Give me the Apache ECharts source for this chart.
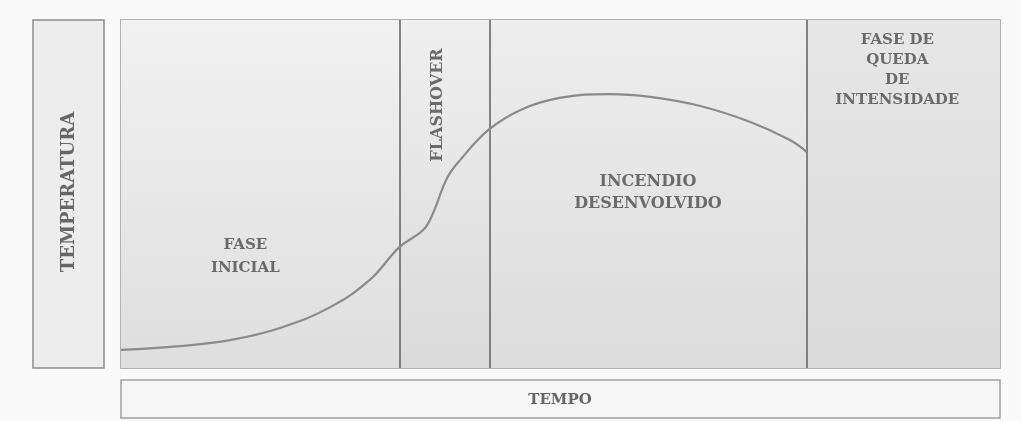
<!DOCTYPE html>
<html>
<head>
<meta charset="utf-8">
<script src="https://cdn.jsdelivr.net/npm/echarts@6/dist/echarts.min.js"></script>
<style>
  html, body { margin: 0; padding: 0; background: #f9f9f9; }
  #chart { width: 1021px; height: 421px; }
</style>
</head>
<body>
<div id="chart"></div>
<script>
// curve: time (0-100) vs temperature (0-100)
const tempoValues = [0, 6.7, 12.4, 18.1, 23.8, 28.3, 31.7, 34.4, 35.5, 37.1, 38.6, 41.8, 45.4, 49.9, 55.6, 60.2, 65.9, 71.6, 76.1, 78.0];
const temperaturaValues = [5.2, 6.3, 8.0, 11.5, 17.5, 25.3, 34.8, 39.7, 44.5, 54.6, 59.8, 68.4, 74.1, 77.6, 78.7, 77.9, 75.3, 70.7, 65.5, 62.1];

// phases
const phaseNames = ["FASE\nINICIAL", "FLASHOVER", "INCENDIO\nDESENVOLVIDO", "FASE DE\nQUEDA\nDE\nINTENSIDADE"];
const phaseBounds = [0, 31.7, 41.9, 78.0, 100];

const yLabel = "TEMPERATURA";
const xLabel = "TEMPO";

const textFont = {
  fontFamily: "DejaVu Serif",
  fontWeight: "bold",
  fontSize: 15,
  color: "#6a6a6a",
};

// note: offset of a rotated label turns with it
const phaseLabels = [
  { position: "inside", offset: [-15, 63], lineHeight: 23 },
  { position: "inside", rotate: 90, offset: [89, -7], fontSize: 16 },
  { position: "inside", offset: [0, -1], lineHeight: 22, fontSize: 16 },
  { position: "insideTop", distance: 10, lineHeight: 20, offset: [-6, 0] },
];

const phaseColors = [
  ["#f1f1f1", "#dedede"],
  ["#efefef", "#dadada"],
  ["#ededed", "#dcdcdc"],
  ["#e6e6e6", "#dadada"],
];

const chart = echarts.init(document.getElementById("chart"));

const areas = phaseNames.map((name, i) => [
  {
    name: name,
    xAxis: phaseBounds[i],
    yAxis: 100,
    itemStyle: {
      color: new echarts.graphic.LinearGradient(0, 0, 0, 1, [
        { offset: 0, color: phaseColors[i][0] },
        { offset: 1, color: phaseColors[i][1] },
      ]),
    },
    label: Object.assign({ show: true }, textFont, phaseLabels[i]),
  },
  { xAxis: phaseBounds[i + 1], yAxis: 0 },
]);

const option = {
  backgroundColor: "#f9f9f9",
  animation: false,
  grid: {
    left: 121,
    right: 21,
    top: 20,
    bottom: 53,
    show: true,
    borderColor: "#9a9a9a",
    borderWidth: 1.5,
    backgroundColor: "transparent",
  },
  xAxis: {
    type: "value",
    min: 0,
    max: 100,
    axisLine: { show: false },
    axisTick: { show: false },
    axisLabel: { show: false },
    splitLine: { show: false },
  },
  yAxis: {
    type: "value",
    min: 0,
    max: 100,
    axisLine: { show: false },
    axisTick: { show: false },
    axisLabel: { show: false },
    splitLine: { show: false },
  },
  graphic: [
    {
      type: "rect",
      shape: { x: 33, y: 20, width: 71, height: 348 },
      style: { fill: "#ececec", stroke: "#8c8c8c", lineWidth: 1.5 },
      z: 1,
    },
    {
      type: "text",
      x: 69,
      y: 192,
      rotation: Math.PI / 2,
      style: {
        text: yLabel,
        align: "center",
        verticalAlign: "middle",
        font: "bold 18px 'DejaVu Serif'",
        fill: "#666",
      },
      z: 2,
    },
    {
      type: "rect",
      shape: { x: 121, y: 380, width: 879, height: 38 },
      style: { fill: "#f6f6f6", stroke: "#a0a0a0", lineWidth: 1.5 },
      z: 1,
    },
    {
      type: "text",
      x: 560,
      y: 400,
      style: {
        text: xLabel,
        align: "center",
        verticalAlign: "middle",
        font: "bold 15px 'DejaVu Serif'",
        fill: "#666",
      },
      z: 2,
    },
  ],
  series: [
    {
      type: "line",
      data: tempoValues.map((t, i) => [t, temperaturaValues[i]]),
      smooth: 0.4,
      showSymbol: false,
      lineStyle: { color: "#8a8a8a", width: 2.2 },
      z: 5,
      markArea: {
        silent: true,
        data: areas,
      },
      markLine: {
        silent: true,
        symbol: "none",
        label: { show: false },
        lineStyle: { color: "#5e5e5e", width: 1.5, type: "solid" },
        data: phaseBounds.slice(1, 4).map((b) => ({ xAxis: b })),
      },
    },
  ],
};

chart.setOption(option);
</script>
</body>
</html>
